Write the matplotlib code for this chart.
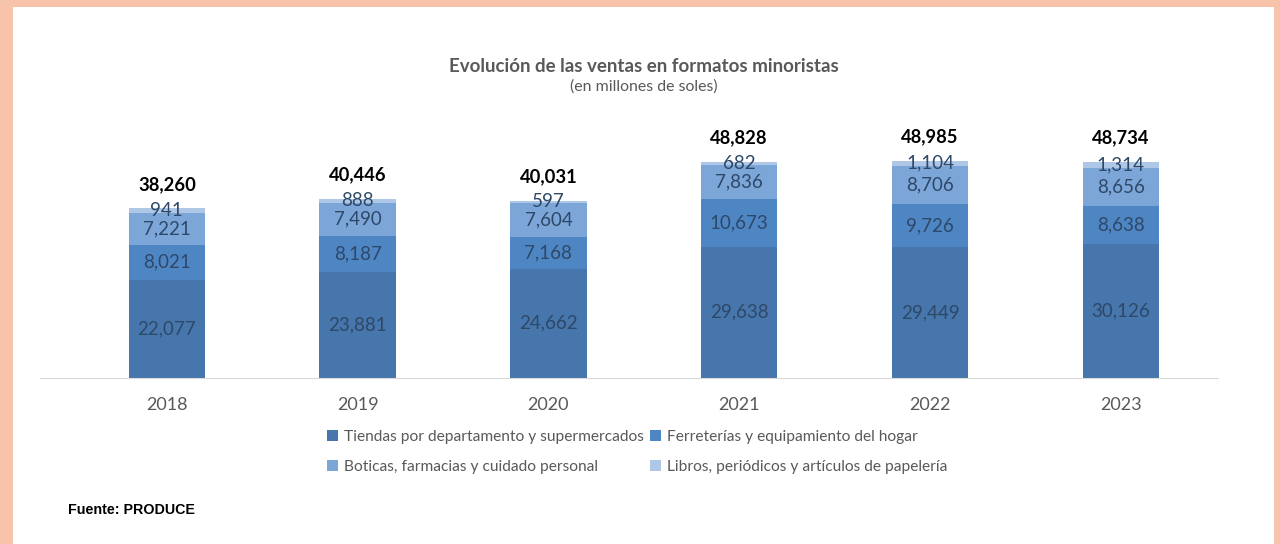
import matplotlib.pyplot as plt
from matplotlib.patches import Rectangle, Patch

years = ["2018", "2019", "2020", "2021", "2022", "2023"]
tiendas = [22077, 23881, 24662, 29638, 29449, 30126]
ferreterias = [8021, 8187, 7168, 10673, 9726, 8638]
boticas = [7221, 7490, 7604, 7836, 8706, 8656]
libros = [941, 888, 597, 682, 1104, 1314]
totals = [38260, 40446, 40031, 48828, 48985, 48734]

series = [
    ("Tiendas por departamento y supermercados", tiendas, "#4676AC"),
    ("Ferreterías y equipamiento del hogar", ferreterias, "#4E86C4"),
    ("Boticas, farmacias y cuidado personal", boticas, "#7CA6D8"),
    ("Libros, periódicos y artículos de papelería", libros, "#AFC7E6"),
]

plt.rcParams["font.family"] = ["Lato", "DejaVu Sans"]
gray = "#595959"

fig = plt.figure(figsize=(12.8, 5.44), dpi=100, facecolor="#F7C3AA")
# white card inside the peach frame
fig.patches.append(Rectangle((13 / 1280, 0), 1261 / 1280, 537 / 544,
                             transform=fig.transFigure, facecolor="white",
                             edgecolor="none", zorder=-1))

ax = fig.add_axes([40 / 1280, 166 / 544, 1178 / 1280, 266 / 544])
ax.set_facecolor("none")

x = list(range(len(years)))
bottom = [0] * len(years)
handles = []
for name, vals, color in series:
    bars = ax.bar(x, vals, width=0.40, bottom=bottom, color=color, zorder=2)
    ax.bar_label(bars, labels=[f"{v:,}" for v in vals], label_type="center",
                 fontsize=13.5, color="#2E4868")
    bottom = [b + v for b, v in zip(bottom, vals)]
    handles.append(Patch(facecolor=color, label=name))

for xi, top, tot in zip(x, bottom, totals):
    ax.annotate(f"{tot:,}", (xi, top), xytext=(0, 11), textcoords="offset points",
                ha="center", va="bottom", fontsize=13.2, fontweight="bold",
                color="black")

ax.set_xlim(-0.665, 5.51)
ax.set_ylim(0, 60000)
ax.set_xticks(x)
ax.set_xticklabels(years, fontsize=13, color=gray)
ax.tick_params(axis="x", length=0, pad=14)
ax.set_yticks([])
for side in ["top", "right", "left"]:
    ax.spines[side].set_visible(False)
ax.spines["bottom"].set_color("#D9D9D9")

fig.text(644 / 1280, 1 - 66 / 544, "Evolución de las ventas en formatos minoristas",
         ha="center", va="center", fontsize=13.5, fontweight="bold", color=gray)
fig.text(644 / 1280, 1 - 87 / 544, "(en millones de soles)",
         ha="center", va="center", fontsize=11.4, color=gray)

# legend fills column by column
order = [0, 2, 1, 3]
fig.legend([handles[i] for i in order], [series[i][0] for i in order],
           ncol=2, loc="center", bbox_to_anchor=(637 / 1280, 1 - 452 / 544),
           frameon=False, fontsize=11.2, labelcolor=gray,
           handlelength=0.7, handleheight=0.7, handletextpad=0.4,
           columnspacing=0.4, labelspacing=1.0)

fig.text(68 / 1280, 1 - 510 / 544, "Fuente: PRODUCE", ha="left", va="center",
         fontsize=10.3, fontweight="bold", family="Liberation Sans", color="black")

fig.savefig("out.png", dpi=100, facecolor=fig.get_facecolor())
